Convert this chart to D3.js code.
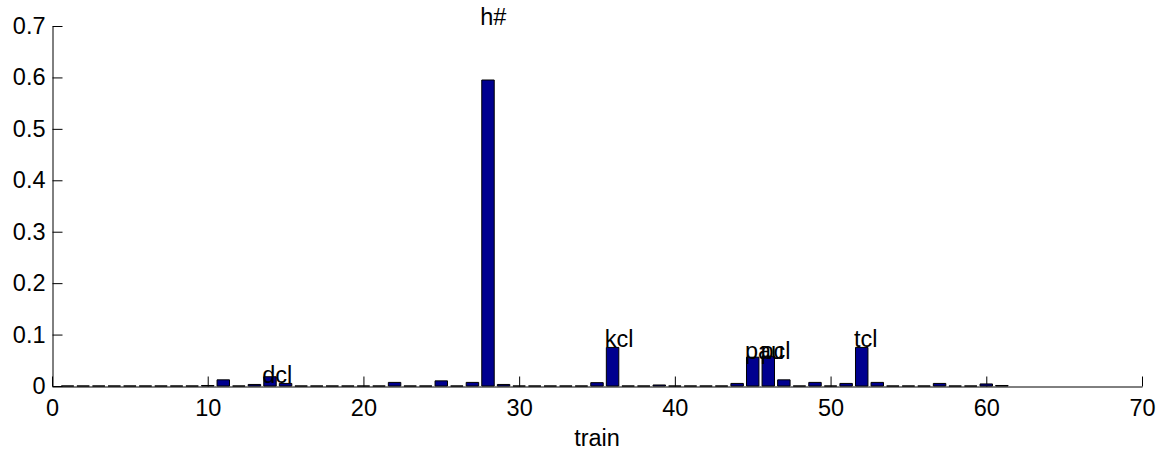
<!DOCTYPE html>
<html>
<head>
<meta charset="utf-8">
<script src="https://cdn.jsdelivr.net/npm/d3@7"></script>
<style>
  html, body { margin: 0; padding: 0; background: #fff; }
  svg { display: block; }
  text { font-family: "Liberation Sans", Arial, Helvetica, sans-serif; fill: #000; }
</style>
</head>
<body>
<svg id="chart" width="1166" height="453"></svg>
<script>
// Phone-class probabilities for the "train" model, indexed 1..61
const classIndex = d3.range(1, 62);
const probability = [
  0, 0, 0, 0, 0, 0, 0, 0, 0, 0.001,          // 1-10
  0.012, 0, 0.003, 0.018, 0.005, 0, 0, 0, 0, 0, // 11-20
  0, 0.007, 0, 0, 0.010, 0, 0.007, 0.595, 0.003, 0, // 21-30
  0, 0, 0, 0, 0.0065, 0.075, 0, 0, 0.002, 0,  // 31-40
  0, 0, 0, 0.005, 0.056, 0.058, 0.012, 0, 0.007, 0, // 41-50
  0.005, 0.075, 0.007, 0, 0, 0, 0.005, 0, 0, 0.004, // 51-60
  0.001                                        // 61
];

// Named phone classes and the level at which each name is written
const labelNames = ["dcl", "h#", "kcl", "pau", "pcl", "tcl"];
const labelIndex = [14, 28, 36, 45, 46, 52];
const labelLevel = [0.006, 0.702, 0.076, 0.052, 0.052, 0.076];

const xTicks = [0, 10, 20, 30, 40, 50, 60, 70];
const yTicks = [0, 0.1, 0.2, 0.3, 0.4, 0.5, 0.6, 0.7];
const xTitle = "train";

const svg = d3.select("#chart");
const plotLeft = 52, plotRight = 1142, plotTop = 26, plotBottom = 386;
const fontSize = 23.5;

const x = d3.scaleLinear().domain([0, 70]).range([plotLeft, plotRight]);
const y = d3.scaleLinear().domain([0, 0.7]).range([plotBottom, plotTop]);
const barWidth = 0.8;

// Axes: ticks point inward, no box
const xAxis = d3.axisBottom(x).tickValues(xTicks).tickSizeInner(-10).tickSizeOuter(0)
  .tickPadding(13).tickFormat(d3.format("d"));
const yAxis = d3.axisLeft(y).tickValues(yTicks).tickSizeInner(-10).tickSizeOuter(0)
  .tickPadding(7).tickFormat(d => d === 0 ? "0" : d.toFixed(1));

const gx = svg.append("g").attr("transform", `translate(0,${plotBottom + 0.5})`).call(xAxis);
const gy = svg.append("g").attr("transform", `translate(${plotLeft + 0.5},0)`).call(yAxis);
[gx, gy].forEach(g => {
  g.selectAll("path.domain").attr("stroke", "#000").attr("stroke-width", 1);
  g.selectAll(".tick line").attr("stroke", "#000").attr("stroke-width", 1);
  g.selectAll(".tick text").attr("font-size", fontSize)
    .attr("font-family", "'Liberation Sans', Arial, sans-serif").attr("fill", "#000");
});

// Bars as closed paths, so zero-height bars still show their outline
const bars = classIndex.map((c, i) => ({ c, v: probability[i] }));
svg.append("g").selectAll("path.bar").data(bars).join("path")
  .attr("class", "bar")
  .attr("d", d => {
    const x0 = x(d.c - barWidth / 2), x1 = x(d.c + barWidth / 2);
    const y0 = y(0), y1 = y(d.v);
    return `M${x0},${y0}V${y1}H${x1}V${y0}Z`;
  })
  .attr("fill", "#00008f")
  .attr("stroke", "#000")
  .attr("stroke-width", 1);

// Class names, left-aligned at each bar's left slot edge
svg.append("g").selectAll("text.name").data(labelNames).join("text")
  .attr("class", "name")
  .attr("x", (d, i) => x(labelIndex[i] - 0.5))
  .attr("y", (d, i) => y(labelLevel[i]))
  .attr("font-size", fontSize)
  .text(d => d);

// Axis title
svg.append("text")
  .attr("x", (plotLeft + plotRight) / 2)
  .attr("y", 446)
  .attr("text-anchor", "middle")
  .attr("font-size", fontSize)
  .text(xTitle);
</script>
</body>
</html>
